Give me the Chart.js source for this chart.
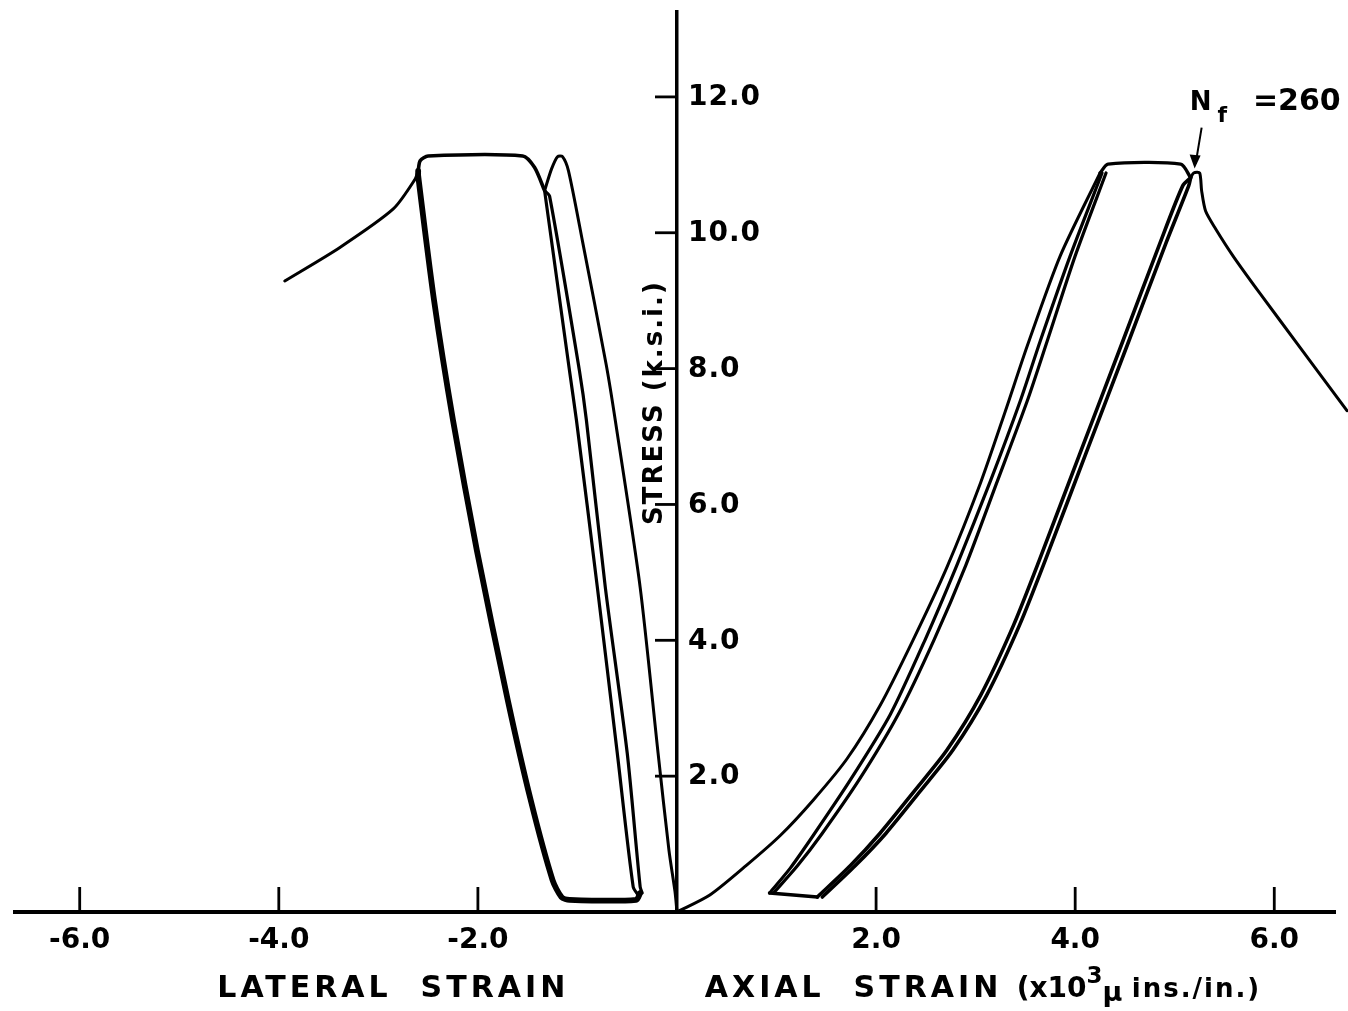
<!DOCTYPE html>
<html>
<head>
<meta charset="utf-8">
<script src="https://cdn.jsdelivr.net/npm/chart.js@4.4.0/dist/chart.umd.min.js"></script>
<style>
  html, body { margin: 0; padding: 0; background: #fff; }
</style>
</head>
<body>
<canvas id="charts" width="1348" height="1011"></canvas>
<script>
// tick labels
const xTicks = [-6, -4, -2, 2, 4, 6];
const yTicks = [2, 4, 6, 8, 10, 12];

// lateral strain side, [strain, stress]
const latTail = [[-3.94, 9.29], [-3.39, 9.78], [-2.85, 10.35], [-2.63, 10.79], [-2.60, 10.91]];
const latTop = [[-2.60, 10.91], [-2.58, 11.06], [-2.50, 11.13], [-1.55, 11.13], [-1.43, 10.96], [-1.33, 10.62]];
const latUnload = [[-2.60, 10.91], [-2.60, 10.84], [-2.44, 9.00], [-2.25, 7.24], [-2.01, 5.32], [-1.70, 3.12], [-1.47, 1.65], [-1.25, 0.47], [-1.16, 0.22], [-1.08, 0.18], [-0.41, 0.18], [-0.37, 0.28]];
const latReload1 = [[-0.39, 0.25], [-0.44, 0.37], [-0.60, 2.34], [-0.80, 4.78], [-1.01, 7.24], [-1.08, 7.97], [-1.33, 10.62]];
const latReload2 = [[-0.35, 0.28], [-0.37, 0.37], [-0.50, 2.34], [-0.72, 4.78], [-0.91, 7.24], [-0.98, 7.97], [-1.28, 10.54], [-1.33, 10.62]];
const latFirst = [[0, 0], [-0.02, 0.30], [-0.08, 0.90], [-0.19, 2.34], [-0.37, 4.78], [-0.62, 7.24], [-0.71, 8.05], [-0.95, 9.88], [-1.09, 10.91], [-1.15, 11.12], [-1.20, 11.12], [-1.26, 10.94], [-1.33, 10.62]];

// axial strain side
const axFirst = [[0, 0], [0.33, 0.25], [0.70, 0.69], [1.04, 1.13], [1.37, 1.65], [1.71, 2.26], [2.04, 3.04], [2.37, 4.00], [2.71, 5.07], [3.05, 6.32], [3.30, 7.38], [3.52, 8.34], [3.85, 9.66], [4.25, 10.88]];
const axLoad1 = [[0.93, 0.28], [1.14, 0.65], [1.37, 1.13], [1.74, 1.94], [2.14, 2.90], [2.49, 4.00], [2.81, 5.10], [3.15, 6.35], [3.45, 7.53], [3.65, 8.41], [3.95, 9.66], [4.27, 10.88]];
const axLoad2 = [[0.97, 0.28], [1.21, 0.68], [1.46, 1.16], [1.84, 1.97], [2.23, 2.93], [2.58, 4.00], [2.90, 5.10], [3.22, 6.35], [3.52, 7.53], [3.72, 8.41], [4.00, 9.66], [4.31, 10.88]];
const axTop = [[4.25, 10.88], [4.33, 11.01], [5.06, 11.01], [5.16, 10.81]];
const axBottom = [[0.93, 0.28], [1.41, 0.22]];
const axUnload1 = [[1.41, 0.22], [1.74, 0.68], [2.04, 1.16], [2.39, 1.79], [2.71, 2.38], [3.05, 3.19], [3.38, 4.22], [3.64, 5.18], [4.05, 6.76], [4.48, 8.41], [4.85, 9.84], [5.08, 10.69], [5.16, 10.81]];
const axUnload2 = [[1.46, 0.22], [1.79, 0.68], [2.10, 1.16], [2.45, 1.79], [2.77, 2.38], [3.11, 3.19], [3.44, 4.22], [3.70, 5.18], [4.11, 6.76], [4.54, 8.41], [4.91, 9.84], [5.14, 10.69], [5.16, 10.81]];
const axTail = [[5.16, 10.81], [5.19, 10.88], [5.25, 10.88], [5.27, 10.62], [5.31, 10.32], [5.41, 10.06], [5.59, 9.65], [5.86, 9.10], [6.26, 8.31], [6.73, 7.38]];

// failure point, N_f = 260 cycles
const nfPoint = [5.21, 10.90];
const nfText = '=260';

const FONT = '"DejaVu Sans", sans-serif';

function curve(points, width, tension) {
    return {
        data: points.map(p => ({x: p[0], y: p[1]})),
        showLine: true,
        borderColor: '#000',
        borderWidth: width,
        pointRadius: 0,
        tension: tension === undefined ? 0.25 : tension,
        borderJoinStyle: 'round',
        borderCapStyle: 'round',
        fill: false,
        clip: false
    };
}

function drawRuns(ctx, runs, x, y) {
    runs.forEach(r => {
        ctx.font = r.font;
        ctx.letterSpacing = r.spacing || '0px';
        ctx.fillText(r.text, x, y + (r.dy || 0));
        x += ctx.measureText(r.text).width + (r.gap || 0);
    });
}

// tick marks, tick labels, axis titles and the N_f note
const axisDecor = {
    id: 'axisDecor',
    afterDraw(chart) {
        const {ctx, scales: {x, y}} = chart;
        const x0 = x.getPixelForValue(0);
        const y0 = y.getPixelForValue(0);
        ctx.save();
        ctx.strokeStyle = '#000';
        ctx.fillStyle = '#000';
        ctx.lineWidth = 2.8;

        ctx.font = 'bold 28px ' + FONT;
        ctx.textAlign = 'center';
        ctx.textBaseline = 'middle';
        xTicks.forEach(v => {
            const px = x.getPixelForValue(v);
            ctx.beginPath();
            ctx.moveTo(px, y0);
            ctx.lineTo(px, y0 - 25);
            ctx.stroke();
            ctx.fillText(v.toFixed(1), px, y0 + 29);
        });

        ctx.textAlign = 'left';
        ctx.letterSpacing = '1px';
        yTicks.forEach(v => {
            const py = y.getPixelForValue(v);
            ctx.beginPath();
            ctx.moveTo(x0 - 22, py);
            ctx.lineTo(x0, py);
            ctx.stroke();
            ctx.fillText(v.toFixed(1), x0 + 11, py + 1);
        });

        // y title, rotated
        ctx.save();
        ctx.translate(x0 - 22, y.getPixelForValue(7.5));
        ctx.rotate(-Math.PI / 2);
        ctx.textAlign = 'center';
        ctx.letterSpacing = '2px';
        ctx.font = 'bold 26px ' + FONT;
        ctx.fillText('STRESS (k.s.i.)', 0, 0);
        ctx.restore();

        // x titles
        ctx.textBaseline = 'alphabetic';
        ctx.letterSpacing = '4px';
        ctx.textAlign = 'center';
        ctx.font = 'bold 30px ' + FONT;
        ctx.fillText('LATERAL  STRAIN', x.getPixelForValue(-2.85), y0 + 85);
        ctx.textAlign = 'left';
        drawRuns(ctx, [
            {text: 'AXIAL  STRAIN ', font: 'bold 30px ' + FONT, spacing: '4px'},
            {text: '(x10', font: 'bold 28px ' + FONT},
            {text: '3', font: 'bold 23px ' + FONT, dy: -14},
            {text: 'μ ', font: 'bold 27px ' + FONT, dy: 4},
            {text: 'ins./in.)', font: 'bold 26px ' + FONT, spacing: '2px'}
        ], x.getPixelForValue(0.28), y0 + 85);
        ctx.letterSpacing = '0px';

        // N_f arrow and label
        const tx = x.getPixelForValue(nfPoint[0]);
        const ty = y.getPixelForValue(nfPoint[1]);
        ctx.lineWidth = 2;
        ctx.beginPath();
        ctx.moveTo(tx + 6, ty - 44);
        ctx.lineTo(tx, ty - 8);
        ctx.stroke();
        ctx.beginPath();
        ctx.moveTo(tx - 1, ty - 3);
        ctx.lineTo(tx - 6, ty - 17);
        ctx.lineTo(tx + 5, ty - 16);
        ctx.closePath();
        ctx.fill();
        drawRuns(ctx, [
            {text: 'N', font: 'bold 26px ' + FONT, gap: 6},
            {text: 'f', font: 'bold 22px ' + FONT, dy: 12, gap: 26},
            {text: nfText, font: 'bold 30px ' + FONT}
        ], tx - 6, ty - 62);
        ctx.restore();
    }
};

const datasets = [
    curve(latTail, 3),
    curve(latTop, 3.6),
    curve(latUnload, 5.8),
    curve(latReload1, 3.2),
    curve(latReload2, 3.2),
    curve(latFirst, 3),
    curve(axFirst, 3),
    curve(axLoad1, 3.2),
    curve(axLoad2, 3.2),
    curve(axTop, 3.4),
    curve(axBottom, 3.6, 0),
    curve(axUnload1, 3.6),
    curve(axUnload2, 3.6),
    curve(axTail, 3)
];

const axisLook = {
    type: 'linear',
    grid: {display: false, drawTicks: false},
    ticks: {display: false},
    border: {display: true, color: '#000', width: 4}
};

new Chart(document.getElementById('charts'), {
    type: 'scatter',
    data: {datasets: datasets},
    options: {
        responsive: false,
        animation: false,
        layout: {padding: {left: 15, right: 13, top: 12, bottom: 99}},
        plugins: {
            legend: {display: false},
            tooltip: {enabled: false}
        },
        scales: {
            x: Object.assign({}, axisLook, {min: -6.65, max: 6.61, position: {y: 0}}),
            y: Object.assign({}, axisLook, {min: 0, max: 13.25, position: {x: 0},
                border: {display: true, color: '#000', width: 3.5}})
        }
    },
    plugins: [axisDecor]
});
</script>
</body>
</html>
